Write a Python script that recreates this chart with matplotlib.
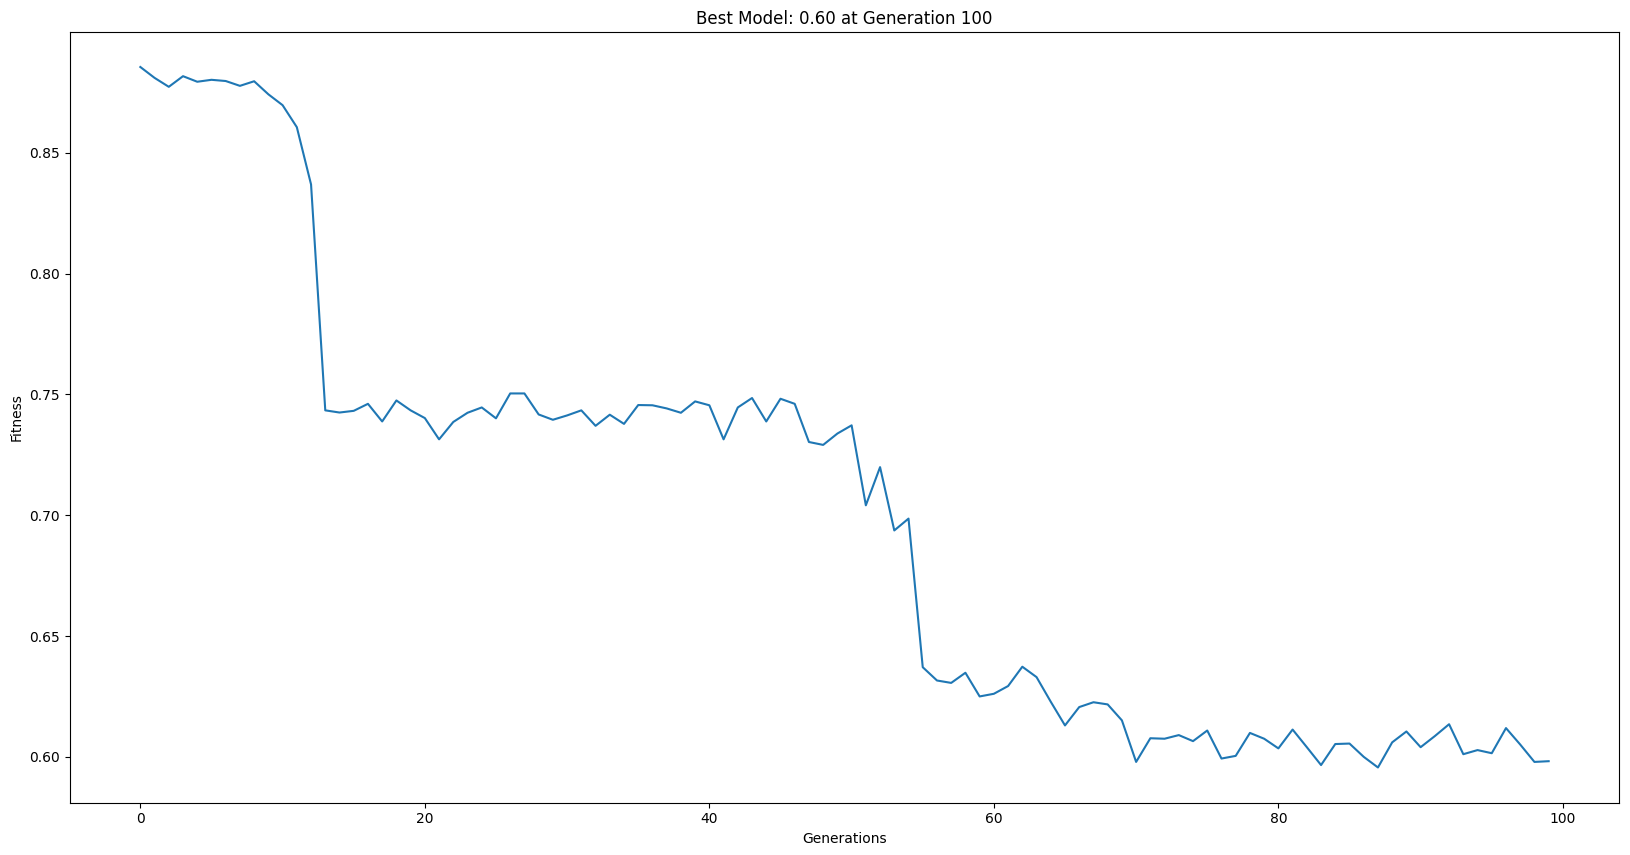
import numpy as np
import matplotlib
matplotlib.use("Agg")
import matplotlib.pyplot as plt

# fitness per generation
fitness = [
    0.8855, 0.8810, 0.8773, 0.8817, 0.8794, 0.8802, 0.8797, 0.8777, 0.8796, 0.8742,
    0.8697, 0.8606, 0.8369, 0.7434, 0.7425, 0.7432, 0.7461, 0.7388, 0.7475, 0.7434,
    0.7402, 0.7314, 0.7386, 0.7424, 0.7446, 0.7401, 0.7504, 0.7504, 0.7417, 0.7395,
    0.7413, 0.7434, 0.7370, 0.7416, 0.7378, 0.7456, 0.7455, 0.7442, 0.7424, 0.7471,
    0.7455, 0.7314, 0.7446, 0.7485, 0.7388, 0.7482, 0.7461, 0.7303, 0.7291, 0.7338,
    0.7372, 0.7041, 0.7199, 0.6937, 0.6986, 0.6371, 0.6316, 0.6306, 0.6348, 0.6250,
    0.6261, 0.6293, 0.6373, 0.6330, 0.6228, 0.6130, 0.6206, 0.6226, 0.6217, 0.6151,
    0.5979, 0.6077, 0.6075, 0.6090, 0.6065, 0.6109, 0.5993, 0.6004, 0.6099, 0.6075,
    0.6035, 0.6113, 0.6040, 0.5966, 0.6053, 0.6055, 0.6000, 0.5956, 0.6060, 0.6105,
    0.6040, 0.6086, 0.6135, 0.6011, 0.6028, 0.6015, 0.6119, 0.6051, 0.5979, 0.5982,
]
generations = np.arange(len(fitness))

best = fitness[-1]
n_gen = 100

fig = plt.figure(figsize=(16.3, 8.55), dpi=100)
ax = fig.add_axes([0.0429, 0.0614, 0.9504, 0.9012])
ax.plot(generations, fitness)
ax.set_title(f"Best Model: {best:.2f} at Generation {n_gen}")
ax.set_xlabel("Generations")
ax.set_ylabel("Fitness")

fig.savefig("out.png", dpi=100)
plt.close(fig)
